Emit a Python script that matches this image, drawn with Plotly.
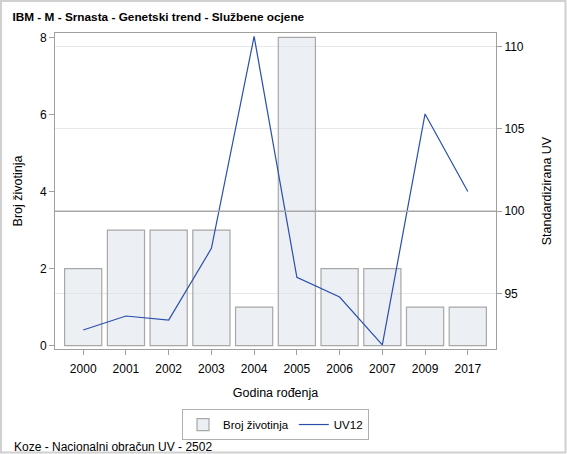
import plotly.graph_objects as go

# data
godine = ['2000', '2001', '2002', '2003', '2004', '2005', '2006', '2007', '2009', '2017']
broj_zivotinja = [2, 3, 3, 3, 1, 8, 2, 2, 1, 1]
uv12 = [92.8, 93.65, 93.4, 97.75, 110.6, 96.0, 94.8, 91.9, 105.9, 101.2]

font = 'Liberation Sans, Arial, sans-serif'
axis_grey = '#a0a0a0'

fig = go.Figure()

fig.add_trace(go.Bar(
    x=godine, y=broj_zivotinja,
    name='Broj životinja',
    marker=dict(color='rgba(217,223,233,0.5)',
                line=dict(color='#a8a8a8', width=1.2)),
    width=0.87,
    yaxis='y',
))

fig.add_trace(go.Scatter(
    x=godine, y=uv12,
    name='UV12',
    mode='lines',
    line=dict(color='#2a4fae', width=1.2),
    yaxis='y2',
))

# reference line at UV = 100
fig.add_shape(type='line', xref='paper', yref='y2', x0=0, x1=1, y0=100, y1=100,
              line=dict(color='#a8a8a8', width=1.6), layer='above')

# light border around the whole image
fig.add_shape(type='rect', xref='paper', yref='paper',
              x0=-0.1224, x1=1.1576, y0=-0.3275, y1=1.101,
              line=dict(color='#d0d0d0', width=2), layer='below')

fig.update_layout(
    width=567, height=454,
    margin=dict(l=55, r=71, t=33, b=105),
    paper_bgcolor='white', plot_bgcolor='white',
    font=dict(family=font, size=12, color='black'),
    title=dict(text='<b>IBM - M - Srnasta - Genetski trend - Službene ocjene</b>',
               x=0.022, xref='container', xanchor='left',
               y=0.962, yref='container', yanchor='middle',
               font=dict(size=11.8)),
    bargap=0.13,
    showlegend=True,
    legend=dict(orientation='h', x=0.5, xanchor='center', y=-0.19, yanchor='top',
                bordercolor='#b0b0b0', borderwidth=1, font=dict(size=11.5),
                itemwidth=30, tracegroupgap=0),
    xaxis=dict(
        title=dict(text='Godina rođenja', standoff=12, font=dict(size=12.5)),
        type='category', range=[-0.66, 9.66],
        showline=True, linecolor=axis_grey, mirror=True,
        ticks='outside', tickcolor=axis_grey, ticklen=5,
        ticklabelstandoff=4,
        showgrid=False,
    ),
    yaxis=dict(
        title=dict(text='Broj životinja', standoff=14, font=dict(size=12.5)),
        range=[-0.086, 8.114], tickvals=[0, 2, 4, 6, 8],
        showline=True, linecolor=axis_grey, mirror=True,
        ticks='outside', tickcolor=axis_grey, ticklen=5,
        showgrid=False, zeroline=False,
    ),
    yaxis2=dict(
        title=dict(text='Standardizirana UV', standoff=18, font=dict(size=12.5)),
        overlaying='y', side='right',
        range=[91.65, 110.81], tickvals=[95, 100, 105, 110],
        ticks='outside', tickcolor=axis_grey, ticklen=5,
        showgrid=True, gridcolor='#e8e8e8', zeroline=False,
        showline=False,
    ),
)

fig.add_annotation(text='Koze - Nacionalni obračun UV - 2502',
                   xref='paper', yref='paper', x=-0.097, y=-0.31,
                   xanchor='left', yanchor='middle', showarrow=False,
                   font=dict(size=12))

# the page's default body margin would shift the chart by 8px
fig.write_html('out.html', config={'displayModeBar': False},
               post_script="document.body.style.margin='0';")
